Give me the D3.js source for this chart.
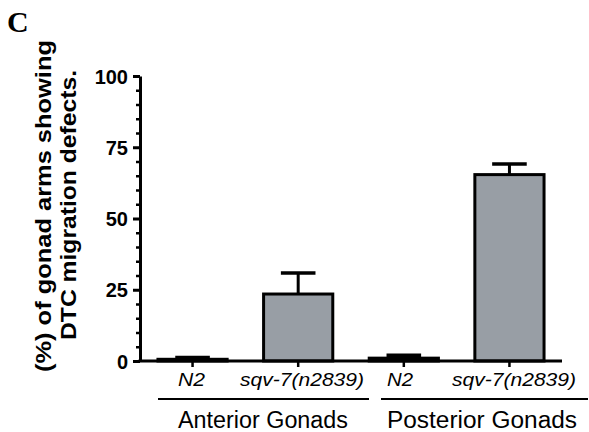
<!DOCTYPE html>
<html><head><meta charset="utf-8">
<script src="https://cdn.jsdelivr.net/npm/d3@7"></script>
<style>body{margin:0;background:#fff}svg{display:block}</style>
</head><body>
<script>
const categories = ["N2 (ant)", "sqv-7 (ant)", "N2 (post)", "sqv-7 (post)"];
const catLabels = ["N2", "sqv-7(n2839)", "N2", "sqv-7(n2839)"];
const means = [0.6, 23.5, 1.0, 65.4];
const sems = [0.6, 7.4, 1.0, 3.7];
const groups = ["Anterior Gonads", "Posterior Gonads"];
const yTicks = [0, 25, 50, 75, 100];
const yMinor = d3.range(0, 101, 5);

const W = 589, H = 432;
const svg = d3.select("body").append("svg").attr("width", W).attr("height", H);
const x0 = 140, x1 = 562, yTop = 76, yBot = 361;
const x = d3.scaleBand().domain(categories).range([x0, x1]).paddingInner(0.345).paddingOuter(0.17);
const y = d3.scaleLinear().domain([0, 100]).range([yBot, yTop]);
const sans = "'Liberation Sans', Arial, sans-serif";

// bars
svg.selectAll("rect.bar").data(categories).join("rect")
  .attr("x", d => x(d)).attr("width", x.bandwidth())
  .attr("y", (d,i) => y(means[i])).attr("height", (d,i) => y(0) - y(means[i]))
  .attr("fill", "#989ea5").attr("stroke", "#000").attr("stroke-width", 3);

// error bars
const cap = x.bandwidth() / 2;
categories.forEach((c, i) => {
  const cx = x(c) + x.bandwidth() / 2;
  svg.append("line").attr("x1", cx).attr("x2", cx).attr("y1", y(means[i])).attr("y2", y(means[i] + sems[i]))
    .attr("stroke", "#000").attr("stroke-width", 3);
  svg.append("line").attr("x1", cx - cap/2).attr("x2", cx + cap/2).attr("y1", y(means[i] + sems[i])).attr("y2", y(means[i] + sems[i]))
    .attr("stroke", "#000").attr("stroke-width", 3.5);
});

// y axis minor
const gMinor = svg.append("g").attr("transform", `translate(${x0},0)`)
  .call(d3.axisLeft(y).tickValues(yMinor.filter(v => v % 25 !== 0)).tickSize(4).tickFormat("").tickSizeOuter(0));
gMinor.select(".domain").remove();
gMinor.selectAll("line").attr("stroke", "#000").attr("stroke-width", 2.5);

// y axis major
const gy = svg.append("g").attr("transform", `translate(${x0},0)`)
  .call(d3.axisLeft(y).tickValues(yTicks).tickSize(7).tickPadding(5).tickSizeOuter(0));
gy.select(".domain").attr("stroke", "#000").attr("stroke-width", 3);
gy.selectAll("line").attr("stroke", "#000").attr("stroke-width", 3);
gy.selectAll("text").attr("font-family", sans).attr("font-weight", "bold").attr("font-size", 20).attr("fill", "#000").attr("dy", "0.35em");

// x axis
const gx = svg.append("g").attr("transform", `translate(0,${yBot})`)
  .call(d3.axisBottom(x).tickSize(6).tickSizeOuter(0).tickFormat(""));
gx.select(".domain").attr("stroke", "#000").attr("stroke-width", 3).attr("d", `M${x0-1.5},0H${x1}`);
gx.selectAll("line").attr("stroke", "#000").attr("stroke-width", 2.5);

// category labels (horizontally stretched italic)
const catCenters = [191.5, 302, 400, 514];
const catWidths = [27, 124, 26, 124];
categories.forEach((c, i) => {
  svg.append("text").attr("x", catCenters[i]).attr("y", 386)
    .attr("text-anchor", "middle").attr("font-family", sans).attr("font-style", "italic")
    .attr("font-size", 19).attr("fill", "#000")
    .attr("textLength", catWidths[i]).attr("lengthAdjust", "spacingAndGlyphs").text(catLabels[i]);
});

// group lines and labels
const gl = [[158, 369], [381, 588]];
const gCenters = [263, 482], gWidths = [170, 190];
groups.forEach((g, i) => {
  svg.append("line").attr("x1", gl[i][0]).attr("x2", gl[i][1]).attr("y1", 399).attr("y2", 399)
    .attr("stroke", "#000").attr("stroke-width", 2);
  svg.append("text").attr("x", gCenters[i]).attr("y", 428)
    .attr("text-anchor", "middle").attr("font-family", sans).attr("font-size", 23).attr("fill", "#000")
    .attr("textLength", gWidths[i]).attr("lengthAdjust", "spacingAndGlyphs").text(g);
});

// y title
const t = svg.append("text").attr("transform", "translate(51,206) rotate(-90)")
  .attr("text-anchor", "middle").attr("font-family", sans).attr("font-weight", "bold").attr("font-size", 22.5).attr("fill", "#000");
t.append("tspan").attr("x", 0).attr("y", 0).attr("textLength", 332).attr("lengthAdjust", "spacingAndGlyphs").text("(%) of gonad arms showing");
t.append("tspan").attr("x", 1).attr("y", 24.5).attr("textLength", 270).attr("lengthAdjust", "spacingAndGlyphs").text("DTC migration defects.");

// panel letter
svg.append("text").attr("x", 7).attr("y", 32).attr("font-family", "'Liberation Serif', 'Times New Roman', serif")
  .attr("font-weight", "bold").attr("font-size", 30).attr("fill", "#000").text("C");
</script>
</body></html>
